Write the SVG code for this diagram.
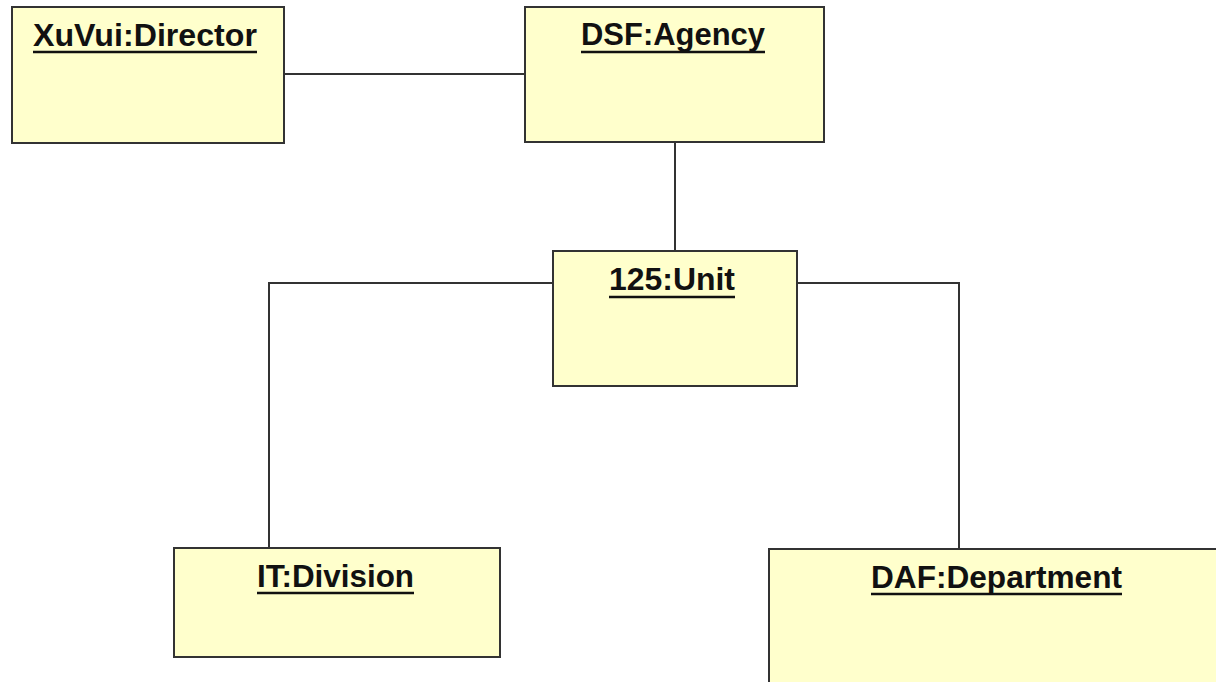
<svg xmlns="http://www.w3.org/2000/svg" width="1216" height="682" viewBox="0 0 1216 682">
  <style>
    .box { fill: #ffffcc; stroke: #333333; stroke-width: 2; }
    .name { font-family: "Liberation Sans", Arial, sans-serif; font-weight: bold; font-size: 32px; fill: #111111; }
    .ul { stroke: #111111; stroke-width: 2.5; }
    .conn { fill: none; stroke: #333333; stroke-width: 2; }
  </style>
  <rect width="1216" height="682" fill="#ffffff"/>

  <g id="connectors">
    <line class="conn" x1="284" y1="74" x2="525" y2="74"/>
    <line class="conn" x1="675" y1="143" x2="675" y2="251"/>
    <polyline class="conn" points="553,283 269,283 269,548"/>
    <polyline class="conn" points="797,283 959,283 959,549"/>
  </g>

  <g id="director">
    <rect class="box" x="12" y="7" width="272" height="136"/>
    <text class="name" x="33" y="46" textLength="224" lengthAdjust="spacingAndGlyphs">XuVui:Director</text>
    <line class="ul" x1="33" y1="52" x2="257" y2="52"/>
  </g>

  <g id="agency">
    <rect class="box" x="525" y="7" width="299" height="135"/>
    <text class="name" x="581" y="45" textLength="184" lengthAdjust="spacingAndGlyphs">DSF:Agency</text>
    <line class="ul" x1="581" y1="52" x2="765" y2="52"/>
  </g>

  <g id="unit">
    <rect class="box" x="553" y="251" width="244" height="135"/>
    <text class="name" x="609" y="290" textLength="126" lengthAdjust="spacingAndGlyphs">125:Unit</text>
    <line class="ul" x1="609" y1="297" x2="735" y2="297"/>
  </g>

  <g id="division">
    <rect class="box" x="174" y="548" width="326" height="109"/>
    <text class="name" x="257" y="587" textLength="157" lengthAdjust="spacingAndGlyphs">IT:Division</text>
    <line class="ul" x1="257" y1="593" x2="414" y2="593"/>
  </g>

  <g id="department">
    <rect class="box" x="769" y="549" width="456" height="140"/>
    <text class="name" x="871" y="588" textLength="251" lengthAdjust="spacingAndGlyphs">DAF:Department</text>
    <line class="ul" x1="871" y1="594" x2="1122" y2="594"/>
  </g>
</svg>
